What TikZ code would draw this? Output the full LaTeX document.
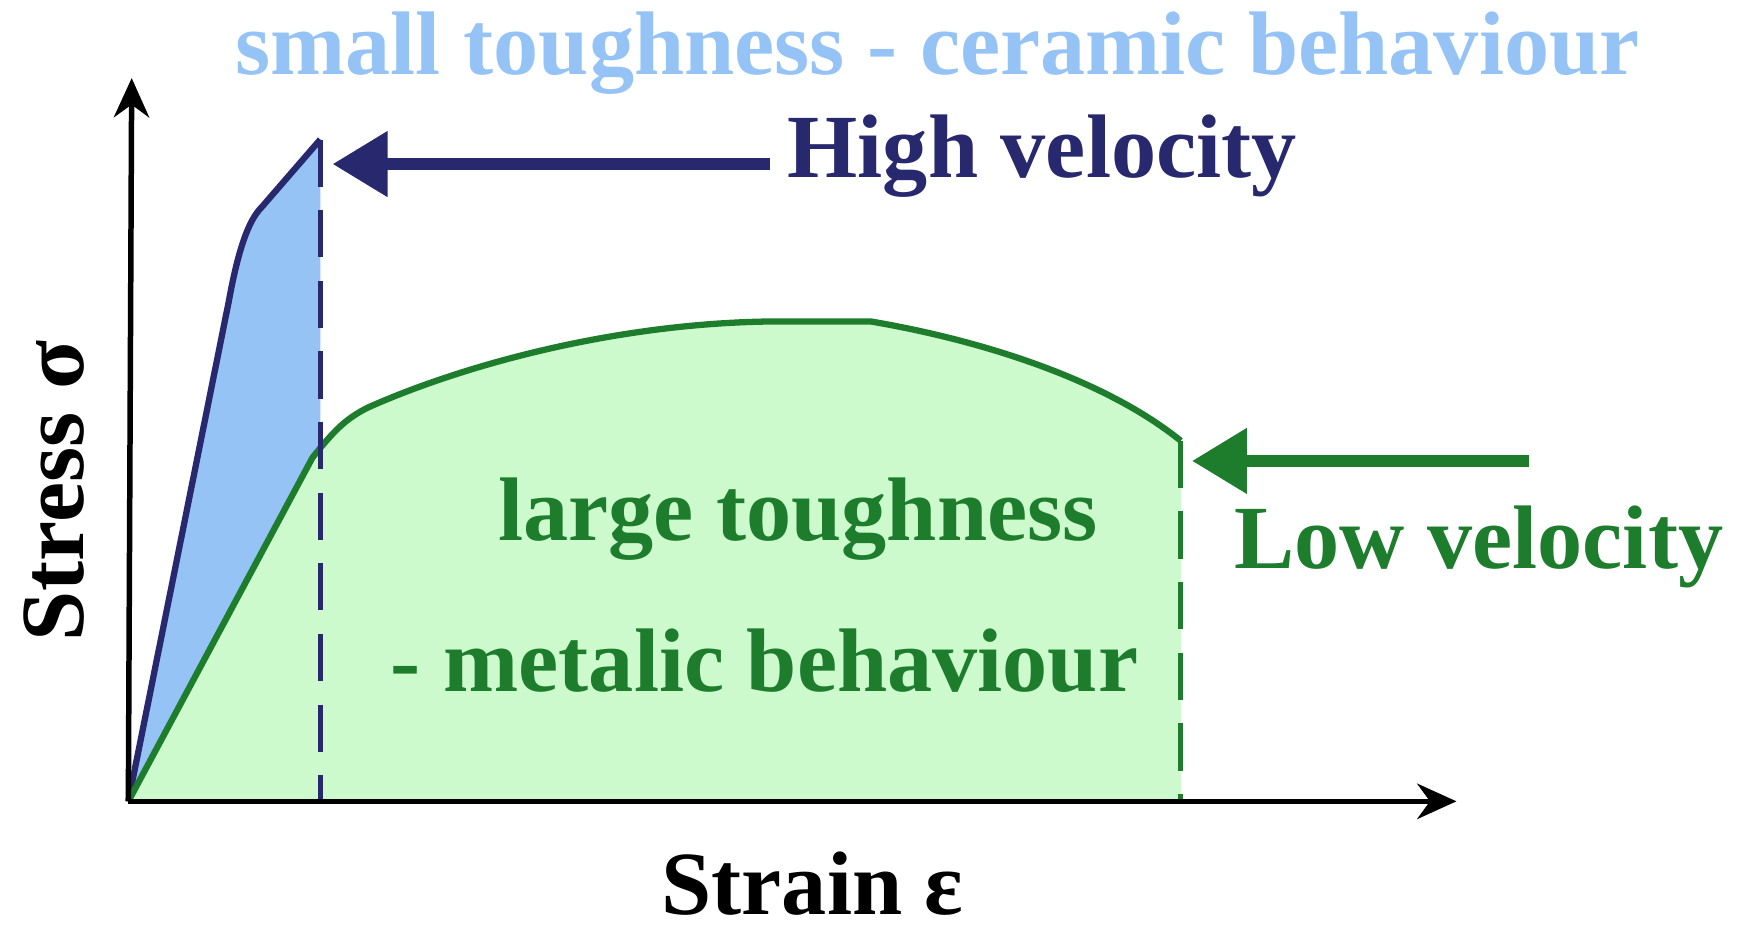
\documentclass[tikz,border=0pt]{standalone}
\usepackage{fontspec}
\setmainfont{Liberation Serif}
\usetikzlibrary{arrows.meta}
\begin{document}
\begin{tikzpicture}[x=0.01cm,y=-0.01cm,
  lbl/.style={font=\fontsize{23}{26}\selectfont\bfseries, inner sep=0pt},
  axis/.style={line width=1.4pt,-{Stealth[length=10pt,width=9pt]}}]
\definecolor{navy}{RGB}{40,40,110}
\definecolor{dgreen}{RGB}{30,125,45}
\definecolor{lblue}{RGB}{150,195,245}
\definecolor{lgreen}{RGB}{205,250,205}
\useasboundingbox (0,0) rectangle (1568,840);
\coordinate (O) at (115,718);
% fills
\fill[lgreen] (O) -- (280,410) .. controls (300,385) and (310,375) .. (330,365)
  .. controls (420,325) and (560,288) .. (700,288) -- (780,288)
  .. controls (880,305) and (990,340) .. (1058,395) -- (1058,718) -- cycle;
\fill[lblue] (O) -- (205,270) .. controls (215,215) and (225,195) .. (235,185) -- (287,125) -- (287,400) -- (280,410) -- cycle;
% curves
\draw[navy,line width=1.6pt] (O) -- (205,270) .. controls (215,215) and (225,195) .. (235,185) -- (287,125);
\draw[dgreen,line width=1.6pt] (O) -- (280,410) .. controls (300,385) and (310,375) .. (330,365)
  .. controls (420,325) and (560,288) .. (700,288) -- (780,288)
  .. controls (880,305) and (990,340) .. (1058,395);
\draw[navy,line width=1.3pt,dash pattern=on 12pt off 6pt] (287,125) -- (287,718);
\draw[dgreen,line width=1.3pt,dash pattern=on 12pt off 6pt] (1058,395) -- (1058,718);
% axes
\draw[axis] (O) -- (118,70);
\draw[axis] (O) -- (1305,718);
% labels
\node[lbl,lblue] (top) at (840,48) {small toughness - ceramic behaviour};
\node[lbl,navy,anchor=west] (hv) at (705,140) {High velocity};
\node[lbl,dgreen] (lv) at (1325,490) {Low velocity};
\node[lbl,dgreen] (lt) at (715,465) {large toughness};
\node[lbl,dgreen] (mb) at (685,592) {- metalic behaviour};
\node[lbl,black,rotate=90] (sy) at (48,440) {Stress σ};
\node[lbl,black] (sx) at (728,792) {Strain ε};
\coordinate (hvs) at (690,147);
\coordinate (hve) at (298,147);
\coordinate (lvs) at (1370,413);
\coordinate (lve) at (1068,413);
\draw[navy,line width=3pt,-{Triangle[length=14pt,width=16pt]}] (hvs) -- (hve);
\draw[dgreen,line width=3pt,-{Triangle[length=14pt,width=16pt]}] (lvs) -- (lve);
\end{tikzpicture}
\end{document}
